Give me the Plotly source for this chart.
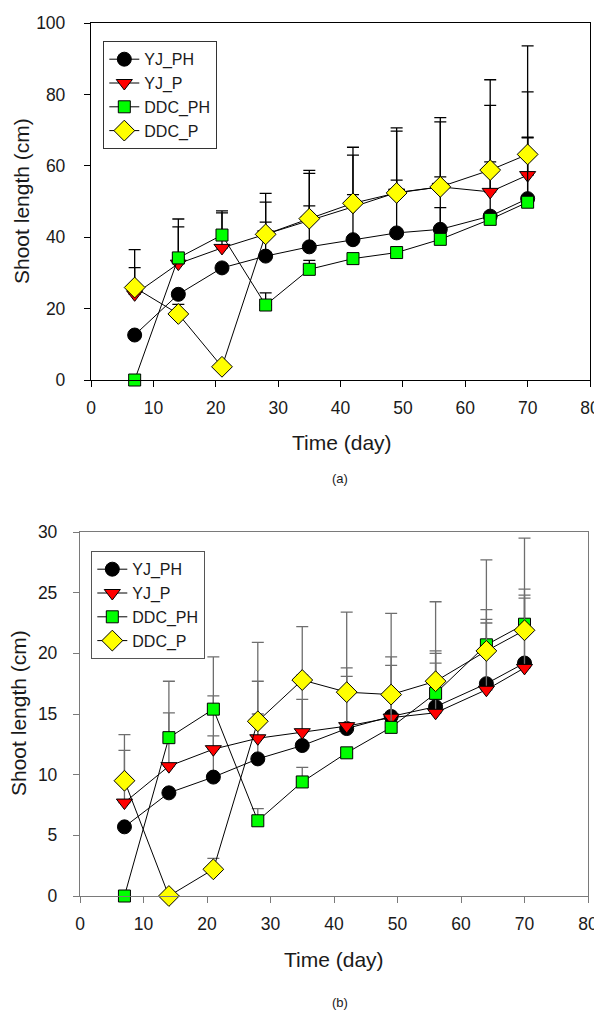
import plotly.graph_objects as go
from plotly.subplots import make_subplots

# ── Data ──────────────────────────────────────────────────────────────────────
DAYS = [7, 14, 21, 28, 35, 42, 49, 56, 64, 70]

# (a)
A_YJ_PH = [12.6, 24.0, 31.4, 34.7, 37.3, 39.3, 41.2, 42.2, 45.9, 50.8]
A_YJ_P = [24.0, 32.6, 37.0, 40.8, 44.8, 48.5, 52.5, 54.1, 52.7, 57.4]
A_DDC_PH = [0.0, 34.2, 40.6, 21.0, 31.0, 34.0, 35.7, 39.4, 45.0, 49.8]
A_DDC_P = [25.9, 18.5, 3.7, 40.8, 45.2, 49.5, 52.4, 54.1, 58.8, 63.2]
A_YJ_PH_ERR = [None, None, None, 9.5, 11.5, 12.6, 14.8, 14.7, 15.2, 17.2]
A_YJ_P_ERR = [7.5, 10.3, 9.8, 9.0, 13.1, 14.5, 17.2, 18.2, 24.2, 23.3]
A_DDC_PH_ERR = [None, 10.9, 6.8, 3.4, 2.5, None, None, 8.9, None, 18.0]
A_DDC_P_ERR = [10.6, 2.7, None, 11.5, 13.5, 15.7, 18.2, 19.4, 25.3, 30.4]

# (b)
B_YJ_PH = [5.7, 8.5, 9.8, 11.3, 12.4, 13.8, 14.8, 15.6, 17.5, 19.2]
B_YJ_P = [7.7, 10.7, 12.1, 13.0, 13.5, 14.0, 14.7, 15.1, 17.0, 18.8]
B_DDC_PH = [0.0, 13.05, 15.4, 6.2, 9.4, 11.8, 13.9, 16.7, 20.7, 22.4]
B_DDC_P = [9.5, 0.0, 2.2, 14.4, 17.8, 16.8, 16.6, 17.7, 20.2, 21.9]
B_YJ_PH_ERR = [None, None, 3.4, 3.7, 3.8, 4.3, 4.2, 4.4, 5.3, 5.6]
B_YJ_P_ERR = [4.3, 4.4, 4.4, 4.7, 4.7, 4.8, 5.0, 5.1, 5.5, 5.75]
B_DDC_PH_ERR = [None, 4.65, 4.3, 1.0, 1.2, None, 2.4, 2.5, 7.0, 7.1]
B_DDC_P_ERR = [3.8, None, 0.9, 6.5, 4.4, 6.6, 6.7, 6.55, 3.4, 3.4]

NAMES = ["YJ_PH", "YJ_P", "DDC_PH", "DDC_P"]
STYLE = {
    "YJ_PH": dict(symbol="circle", color="#000000", size=14),
    "YJ_P": dict(symbol="triangle-down", color="#ff0000", size=14),
    "DDC_PH": dict(symbol="square", color="#00ff00", size=12),
    "DDC_P": dict(symbol="diamond", color="#ffff00", size=16),
}

FONT = "Liberation Sans, Arial, sans-serif"

# page is offset by the default 8px body margin
OFF = 8
W, H = 602 - OFF, 1018 - OFF


def px(p):
    return (p - OFF) / W


def py(p):
    return 1 - (p - OFF) / H


fig = make_subplots(rows=2, cols=1)


def add_panel(row, series, errs, err_color, legend):
    for name, y, e in zip(NAMES, series, errs):
        st = STYLE[name]
        fig.add_trace(go.Scatter(
            x=DAYS, y=y, name=name, mode="lines+markers",
            legend=legend, cliponaxis=False,
            line=dict(color="#000000", width=1),
            marker=dict(symbol=st["symbol"], color=st["color"], size=st["size"],
                        line=dict(color="#000000", width=1)),
            error_y=dict(type="data", symmetric=False, array=e,
                         arrayminus=[0 if v is not None else None for v in e],
                         color=err_color, thickness=1.3, width=6)),
            row=row, col=1)


add_panel(1, [A_YJ_PH, A_YJ_P, A_DDC_PH, A_DDC_P],
          [A_YJ_PH_ERR, A_YJ_P_ERR, A_DDC_PH_ERR, A_DDC_P_ERR], "#000000", "legend")
add_panel(2, [B_YJ_PH, B_YJ_P, B_DDC_PH, B_DDC_P],
          [B_YJ_PH_ERR, B_YJ_P_ERR, B_DDC_PH_ERR, B_DDC_P_ERR], "#6e6e6e", "legend2")

axis_common = dict(showgrid=False, zeroline=False, ticks="outside", ticklen=6,
                   mirror=True, showline=True, automargin=False,
                   ticklabeloverflow="allow",
                   tickfont=dict(size=17.5, color="#1a1a1a", family=FONT))

fig.update_xaxes(range=[0, 80], dtick=10, ticklabelstandoff=6, **axis_common)
fig.update_yaxes(**axis_common)

fig.update_xaxes(domain=[px(91), px(590)], linecolor="#000000",
                 tickcolor="#000000", linewidth=1.3, row=1, col=1)
fig.update_yaxes(domain=[py(380), py(23)], range=[0, 100], dtick=20,
                 ticklabelstandoff=15,
                 linecolor="#000000", tickcolor="#000000", linewidth=1.3, row=1, col=1)
fig.update_xaxes(domain=[px(80), px(588)], linecolor="#7a7a7a",
                 tickcolor="#7a7a7a", linewidth=1.3, row=2, col=1)
fig.update_yaxes(domain=[py(896), py(532)], range=[0, 30], dtick=5,
                 ticklabelstandoff=12,
                 linecolor="#7a7a7a", tickcolor="#7a7a7a", linewidth=1.3, row=2, col=1)

leg_font = dict(size=16, color="#1a1a1a", family=FONT)
fig.update_layout(
    width=W, height=H,
    margin=dict(l=0, r=0, t=0, b=0),
    paper_bgcolor="white", plot_bgcolor="white",
    font=dict(family=FONT, color="#1a1a1a"),
    legend=dict(x=px(103), y=py(41), xanchor="left", yanchor="top",
                bordercolor="#333333", borderwidth=1.3, font=leg_font,
                bgcolor="white", itemwidth=30,
                entrywidth=100, entrywidthmode="pixels"),
    legend2=dict(x=px(91), y=py(551), xanchor="left", yanchor="top",
                 bordercolor="#555555", borderwidth=1.3, font=leg_font,
                 bgcolor="white", itemwidth=30,
                 entrywidth=100, entrywidthmode="pixels"),
)

annots = [
    ("Shoot length (cm)", 22, 201, -90, 21),
    ("Time (day)", 342, 443, 0, 21),
    ("(a)", 340, 479, 0, 13),
    ("Shoot length (cm)", 18, 713, -90, 21),
    ("Time (day)", 334, 959, 0, 21),
    ("(b)", 340, 1002, 0, 13),
]
for text, x, y, ang, size in annots:
    fig.add_annotation(text=text, x=px(x), y=py(y), xref="paper", yref="paper",
                       xanchor="center", yanchor="middle",
                       showarrow=False, textangle=ang,
                       font=dict(size=size, color="#1a1a1a", family=FONT))

fig.write_html("out.html")
